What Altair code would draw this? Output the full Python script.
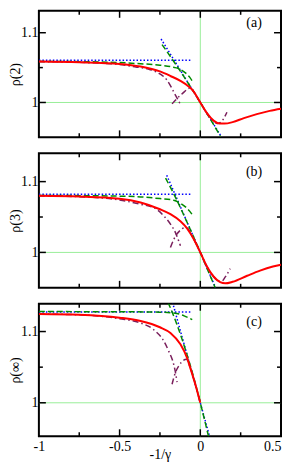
import altair as alt
import pandas as pd

FONT = "Liberation Serif"

# ---------------- panel (a): rho(2) ----------------
red_a_x = [-1.0, -0.75, -0.5, -0.37, -0.25, -0.185, -0.123, -0.072, -0.041, 0.0, 0.041, 0.082, 0.12, 0.15, 0.2, 0.27, 0.35, 0.43, 0.5]
red_a_y = [1.0586, 1.0577, 1.0553, 1.0515, 1.0445, 1.038, 1.031, 1.0229, 1.0157, 1.0, 0.9847, 0.974, 0.9698, 0.9697, 0.9718, 0.9776, 0.9833, 0.988, 0.991]
blue_flat_a_x = [-1.0, -0.05]
blue_flat_a_y = [1.0605, 1.0605]
blue_steep_a_x = [-0.243, 0.13]
blue_steep_a_y = [1.091, 0.951]
green_flat_a_x = [-1.0, -0.75, -0.5, -0.37, -0.25, -0.165, -0.12, -0.09, -0.065, -0.045]
green_flat_a_y = [1.0589, 1.0585, 1.0572, 1.0555, 1.0535, 1.0505, 1.047, 1.042, 1.036, 1.029]
green_steep_a_x = [-0.237, -0.15, -0.075, 0.0, 0.06, 0.125]
green_steep_a_y = [1.083, 1.054, 1.0276, 1.0, 0.977, 0.9515]
purple_far_a_x = [-1.0, -0.75, -0.5, -0.4, -0.31, -0.25, -0.206, -0.18, -0.16, -0.143, -0.123]
purple_far_a_y = [1.0586, 1.0575, 1.0545, 1.051, 1.047, 1.041, 1.032, 1.022, 1.013, 1.006, 0.997]
purple_near_a_x = [-0.175, -0.143, -0.11, -0.08, -0.062, -0.04, -0.02, 0.0, 0.04, 0.08, 0.105, 0.125, 0.145, 0.165]
purple_near_a_y = [0.998, 1.006, 1.013, 1.019, 1.021, 1.0155, 1.008, 1.0, 0.985, 0.974, 0.970, 0.9715, 0.977, 0.986]

# ---------------- panel (b): rho(3) ----------------
red_b_x = [-1.0, -0.75, -0.5, -0.37, -0.25, -0.185, -0.123, -0.082, -0.041, 0.0, 0.041, 0.082, 0.123, 0.155, 0.2, 0.29, 0.37, 0.45, 0.5]
red_b_y = [1.0799, 1.0789, 1.0758, 1.0705, 1.061, 1.054, 1.044, 1.034, 1.019, 1.0, 0.980, 0.966, 0.958, 0.9563, 0.9585, 0.967, 0.9742, 0.98, 0.9827]
blue_flat_b_x = [-1.0, -0.05]
blue_flat_b_y = [1.0822, 1.0822]
blue_steep_b_x = [-0.208, 0.094]
blue_steep_b_y = [1.109, 0.9505]
green_flat_b_x = [-1.0, -0.75, -0.5, -0.37, -0.25, -0.165, -0.12, -0.09, -0.065, -0.045]
green_flat_b_y = [1.0805, 1.0802, 1.0795, 1.0784, 1.076, 1.0737, 1.069, 1.064, 1.058, 1.0516]
green_steep_b_x = [-0.215, -0.15, -0.075, 0.0, 0.05, 0.092]
green_steep_b_y = [1.105, 1.076, 1.039, 1.0, 0.973, 0.9505]
purple_far_b_x = [-1.0, -0.75, -0.5, -0.37, -0.29, -0.226, -0.185, -0.154, -0.135, -0.123]
purple_far_b_y = [1.0799, 1.0787, 1.074, 1.068, 1.0634, 1.0516, 1.040, 1.028, 1.017, 1.0094]
purple_near_b_x = [-0.185, -0.165, -0.148, -0.125, -0.1, -0.08, -0.06, -0.041, 0.0, 0.041, 0.082, 0.11, 0.13, 0.155, 0.185]
purple_near_b_y = [1.007, 1.018, 1.025, 1.031, 1.0345, 1.034, 1.027, 1.019, 1.0, 0.980, 0.966, 0.9595, 0.959, 0.9655, 0.977]

# ---------------- panel (c): rho(inf) ----------------
red_c_x = [-1.0, -0.75, -0.5, -0.37, -0.25, -0.185, -0.123, -0.082, -0.062, -0.031, 0.0]
red_c_y = [1.1246, 1.1236, 1.1195, 1.1148, 1.106, 1.098, 1.082, 1.063, 1.049, 1.026, 1.0]
blue_flat_c_x = [-1.0, -0.05]
blue_flat_c_y = [1.1275, 1.1275]
blue_steep_c_x = [-0.172, 0.06]
blue_steep_c_y = [1.141, 0.9507]
green_flat_c_x = [-1.0, -0.5, -0.25, -0.165, -0.13, -0.1, -0.075, -0.05]
green_flat_c_y = [1.128, 1.1278, 1.1272, 1.126, 1.1245, 1.122, 1.1195, 1.1167]
green_steep_c_x = [-0.2, -0.145, -0.09, -0.045, 0.0, 0.053]
green_steep_c_y = [1.141, 1.11, 1.073, 1.039, 1.0, 0.951]
purple_far_c_x = [-1.0, -0.75, -0.5, -0.37, -0.29, -0.226, -0.196, -0.165, -0.155, -0.144]
purple_far_c_y = [1.1246, 1.1235, 1.118, 1.112, 1.1028, 1.0865, 1.0726, 1.054, 1.044, 1.029]
purple_near_c_x = [-0.175, -0.155, -0.13, -0.105, -0.085, -0.065, -0.031, 0.0]
purple_near_c_y = [1.026, 1.042, 1.053, 1.0595, 1.061, 1.051, 1.026, 1.0]

# axis ticks and labels
x_major = [-0.5, 0.0]
x_minor = [-0.75, -0.25, 0.25]
x_labels = [-1.0, -0.5, 0.0, 0.5]
y_major = [1.0, 1.1]
y_minor = [1.05]
titles = ["ρ(2)", "ρ(3)", "ρ(∞)"]
tags = ["(a)", "(b)", "(c)"]

RED = "#ff0000"
BLUE = "#0000ff"
GREEN = "#008b00"
PURPLE = "#7a1f5c"
LIGHT = "#99ee99"

X_DOM = [-1.0, 0.5]
XS = alt.Scale(domain=X_DOM, nice=False, zero=False)


def panel(series, ydom, height, ytitle, tag, tag_y, bottom_labels):
    ys = alt.Scale(domain=ydom, nice=False, zero=False)
    layers = []

    # red curve carries the labelled axes
    if bottom_labels:
        xaxis = alt.Axis(orient="bottom", values=x_labels, ticks=False, domain=False, grid=False,
                         labelExpr="'' + datum.value", labelFont=FONT, labelFontSize=14,
                         labelColor="black", labelPadding=3, labelFlush=False,
                         labelAlign={"condition": {"test": "datum.value == 0.5", "value": "right"},
                                     "value": "center"},
                         title="-1/γ", titleFont=FONT, titleFontSize=14,
                         titleFontWeight="normal", titleColor="black", titlePadding=-6)
    else:
        xaxis = None
    yaxis = alt.Axis(orient="left", values=y_major, ticks=False, domain=False, grid=False,
                     format="~g", labelFont=FONT, labelFontSize=14, labelColor="black",
                     labelPadding=1, labelFlush=False, title=ytitle, titleFont=FONT,
                     titleFontSize=14, titleFontWeight="normal", titleColor="black",
                     titlePadding=-2.5)
    rdf = pd.DataFrame({"x": series[0][0], "y": series[0][1]})
    red_layer = alt.Chart(rdf).mark_line(color=RED, strokeWidth=2, interpolate="monotone",
                                         clip=True).encode(
        x=alt.X("x:Q", scale=XS, axis=xaxis), y=alt.Y("y:Q", scale=ys, axis=yaxis))

    # reference rules
    layers.append(alt.Chart(pd.DataFrame({"x": [0.0]})).mark_rule(color=LIGHT, strokeWidth=1).encode(
        x=alt.X("x:Q", scale=XS, axis=None)))
    layers.append(alt.Chart(pd.DataFrame({"y": [1.0]})).mark_rule(color=LIGHT, strokeWidth=1).encode(
        y=alt.Y("y:Q", scale=ys, axis=None)))

    styles = [
        (BLUE, 1.5, [1.5, 2]),
        (BLUE, 1.5, [1.5, 2]),
        (GREEN, 1.5, [6, 3]),
        (GREEN, 1.5, [6, 3]),
        (PURPLE, 1.5, [6, 3, 1.5, 3]),
        (PURPLE, 1.5, [6, 3, 1.5, 3]),
    ]
    for (xs_, ys_), (col, w, dash) in zip(series[1:], styles):
        df = pd.DataFrame({"x": xs_, "y": ys_})
        layers.append(alt.Chart(df).mark_line(color=col, strokeWidth=w, strokeDash=dash,
                                              interpolate="monotone", clip=True).encode(
            x=alt.X("x:Q", scale=XS, axis=None), y=alt.Y("y:Q", scale=ys, axis=None)))

    layers.append(red_layer)

    # inward ticks on all four sides
    def xticks(vals, edge, size, off):
        df = pd.DataFrame({"v": vals, "e": [edge] * len(vals)})
        return alt.Chart(df).mark_tick(orient="vertical", size=size, thickness=1.5, color="black",
                                       opacity=1, yOffset=off).encode(
            x=alt.X("v:Q", scale=XS, axis=None), y=alt.Y("e:Q", scale=ys, axis=None))

    def yticks(vals, edge, size, off):
        df = pd.DataFrame({"v": vals, "e": [edge] * len(vals)})
        return alt.Chart(df).mark_tick(orient="horizontal", size=size, thickness=1.5, color="black",
                                       opacity=1, xOffset=off).encode(
            y=alt.Y("v:Q", scale=ys, axis=None), x=alt.X("e:Q", scale=XS, axis=None))

    MJ, MN = 7, 4
    layers += [
        xticks(x_major, ydom[0], MJ, -MJ / 2), xticks(x_minor, ydom[0], MN, -MN / 2),
        xticks(x_major, ydom[1], MJ, MJ / 2), xticks(x_minor, ydom[1], MN, MN / 2),
        yticks(y_major, X_DOM[0], MJ, MJ / 2), yticks(y_minor, X_DOM[0], MN, MN / 2),
        yticks(y_major, X_DOM[1], MJ, -MJ / 2), yticks(y_minor, X_DOM[1], MN, -MN / 2),
    ]

    layers.append(alt.Chart(pd.DataFrame({"t": [tag], "x": [0.333], "y": [tag_y]})).mark_text(
        font=FONT, fontSize=14, color="black", align="center", baseline="middle").encode(
        x=alt.X("x:Q", scale=XS, axis=None), y=alt.Y("y:Q", scale=ys, axis=None), text="t:N"))

    return alt.layer(*layers).resolve_axis(x="independent", y="independent").properties(
        width=243, height=height)


pa = panel([(red_a_x, red_a_y), (blue_flat_a_x, blue_flat_a_y), (blue_steep_a_x, blue_steep_a_y),
            (green_flat_a_x, green_flat_a_y), (green_steep_a_x, green_steep_a_y),
            (purple_far_a_x, purple_far_a_y), (purple_near_a_x, purple_near_a_y)],
           [0.95, 1.1314], 127, titles[0], tags[0], 1.114, False)
pb = panel([(red_b_x, red_b_y), (blue_flat_b_x, blue_flat_b_y), (blue_steep_b_x, blue_steep_b_y),
            (green_flat_b_x, green_flat_b_y), (green_steep_b_x, green_steep_b_y),
            (purple_far_b_x, purple_far_b_y), (purple_near_b_x, purple_near_b_y)],
           [0.95, 1.14], 135, titles[1], tags[1], 1.113, False)
pc = panel([(red_c_x, red_c_y), (blue_flat_c_x, blue_flat_c_y), (blue_steep_c_x, blue_steep_c_y),
            (green_flat_c_x, green_flat_c_y), (green_steep_c_x, green_steep_c_y),
            (purple_far_c_x, purple_far_c_y), (purple_near_c_x, purple_near_c_y)],
           [0.953, 1.139], 133, titles[2], tags[2], 1.114, True)

chart = alt.vconcat(pa, pb, pc, spacing=12).properties(
    padding={"left": 0, "top": 0, "right": 0, "bottom": 0},
    background="white",
).configure_view(stroke="black", strokeWidth=2)

chart.save("out.html", embed_options={"renderer": "svg", "actions": False})
